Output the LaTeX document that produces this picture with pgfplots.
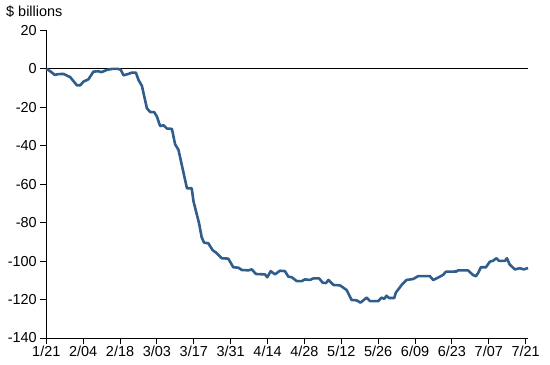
\documentclass[border=0pt]{standalone}
\usepackage{pgfplots}
\pgfplotsset{compat=1.18}
\usepackage{fontspec}
\setmainfont{Liberation Sans}
\definecolor{lineblue}{RGB}{47,93,140}
\begin{document}
\begin{tikzpicture}
\useasboundingbox (-46.3bp,-27bp) rectangle (503.7bp,338bp);
\begin{axis}[
  scale only axis,
  width=482bp, height=307.5bp,
  xmin=0, xmax=183, ymin=-140, ymax=20,
  axis x line*=bottom, axis y line*=left,
  axis line style={line width=0.9pt, -},
  xtick={0,14,...,182},
  xticklabels={1/21,2/04,2/18,3/03,3/17,3/31,4/14,4/28,5/12,5/26,6/09,6/23,7/07,7/21},
  ytick={-140,-120,...,20},
  tick align=outside,
  major tick length=6bp,
  tick style={black, line width=0.9pt},
  ticklabel style={font=\fontsize{14.5}{16}\selectfont},
  x tick label style={yshift=1bp},
  /pgf/number format/assume math mode=true,
  clip=false,
]
\draw[black, line width=0.9pt] (axis cs:0,0) -- (axis cs:183,0);
\addplot[lineblue, line width=2.6pt, line join=round] coordinates {
(0,0) (1.5,-1.2) (3.2,-3.1) (4.5,-2.7) (6.6,-2.6) (9.1,-4.3) (11.6,-8.5) (12.9,-8.5)
(14.1,-6.6) (16,-5.4) (17.9,-1.4) (19.8,-1.2) (20.9,-1.7) (23,-0.5) (24.9,0) (27.4,0)
(28.3,-0.5) (29.3,-3.3) (31.2,-2.6) (32.5,-1.9) (34,-1.9) (35,-5.7) (36.3,-8.8)
(38.2,-20.5) (39.4,-22.4) (41,-22.5) (42,-24.8) (43.2,-29.7) (44.5,-29.3) (45.8,-31)
(47.7,-31.2) (48.9,-39.2) (50.2,-42.2) (52.7,-57.8) (53.4,-62.1) (55.2,-62.1)
(55.9,-69) (58,-80.3) (59,-87.6) (59.9,-90.4) (61.5,-90.7) (63.1,-94.2) (64.7,-95.9)
(66.6,-98.5) (69.1,-98.7) (71,-103.2) (72.9,-103.4) (74.2,-104.6) (76.7,-104.8)
(78,-104.3) (79.6,-106.7) (83,-106.9) (83.9,-108.4) (85.2,-105.2) (86.8,-106.9)
(88.7,-105) (90.6,-105.2) (91.9,-108.1) (93.2,-108.4) (95.1,-110.4) (97,-110.4)
(98.2,-109.5) (100.1,-109.8) (101.4,-109) (103.6,-109) (104.9,-111.2) (106.2,-111.4)
(107.1,-109.8) (109,-112.4) (111.5,-112.6) (114,-115) (115.9,-120.2) (117.8,-120.4)
(119.3,-121.6) (121.6,-119) (122.9,-120.8) (126,-120.8) (127.3,-119) (128.3,-119.6)
(129.2,-118) (130.1,-119.2) (132.1,-119.2) (132.7,-116.4) (134.9,-112.4) (136.8,-109.8)
(139.3,-109.3) (141.2,-107.8) (145.6,-107.8) (146.9,-109.8) (149.4,-108.1)
(150.7,-107.1) (151.7,-105.5) (155.7,-105.4) (156.3,-104.8) (160.1,-104.8)
(162,-107.2) (163.1,-107.9) (163.9,-106.3) (165,-103.2) (166.9,-103.2) (168.4,-100.3)
(169.6,-99.8) (170.9,-98.5) (171.9,-99.9) (174.1,-99.9) (174.9,-98.5) (175.9,-101.7)
(177.9,-104.3) (179.8,-103.7) (181.3,-104.3) (182.9,-103.6)
};
\end{axis}
\node[anchor=base west, font=\fontsize{14.5}{16}\selectfont, inner sep=0pt] at (-40.3bp,321bp) {\$ billions};
\end{tikzpicture}
\end{document}
